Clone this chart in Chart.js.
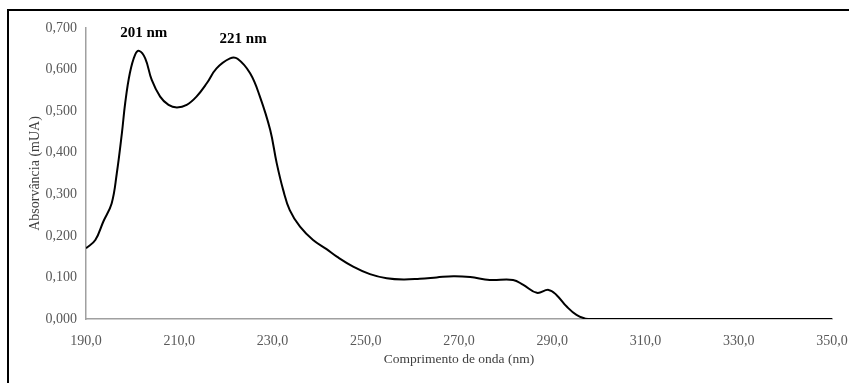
<!DOCTYPE html>
<html>
<head>
<meta charset="utf-8">
<script src="https://cdn.jsdelivr.net/npm/chart.js@4/dist/chart.umd.min.js"></script>
<style>
  html, body { margin: 0; padding: 0; background: #fff; overflow: hidden; }
  #wrap { position: relative; width: 849px; height: 383px; overflow: hidden; }
  #frame { position: absolute; left: 7px; top: 9px; width: 900px; height: 420px; border: 2px solid #000; }
  #chart-spectrum { position: absolute; left: 0; top: 0; }
</style>
</head>
<body>
<div id="wrap">
  <div id="frame"></div>
  <canvas id="chart-spectrum" width="849" height="383"></canvas>
</div>
<script>
'use strict';

// Wavelength (nm) and absorbance
var wavelengths = [190, 192, 193.7, 195.5, 196.6, 197.7, 198.4, 199.4, 200.5, 201.4, 202.7, 204.1, 205.9, 207.7, 209.5, 211.6, 213.7, 215.9, 218, 220.9, 222.5, 225.2, 227.3, 229.5, 230.9, 232.3, 233.7, 235.9, 238.7, 241.6, 243.8, 247.3, 250.9, 254.5, 258.1, 261.6, 265.2, 268.8, 272.4, 276.6, 281.6, 283.8, 286.7, 289.2, 290.9, 293.1, 295.2, 297.7, 310, 330, 350];
var absorbance = [0.170, 0.190, 0.234, 0.278, 0.350, 0.447, 0.519, 0.591, 0.635, 0.645, 0.627, 0.575, 0.535, 0.515, 0.509, 0.515, 0.535, 0.567, 0.603, 0.627, 0.626, 0.591, 0.535, 0.455, 0.375, 0.310, 0.262, 0.222, 0.190, 0.168, 0.150, 0.126, 0.108, 0.098, 0.095, 0.097, 0.100, 0.103, 0.101, 0.094, 0.094, 0.082, 0.063, 0.070, 0.058, 0.030, 0.010, 0.000, 0, 0, 0];

// Peak labels
var peakLabels = ['201 nm', '221 nm'];
var peakLabelX = [202.4, 223.7];
var peakLabelY = [0.688, 0.674];

var serif = "'Liberation Serif', 'Times New Roman', serif";

function commaFixed(v, d) {
  return Number(v).toFixed(d).replace('.', ',');
}

// draws the peak labels at data coordinates
var peakLabelPlugin = {
  id: 'peakLabels',
  afterDatasetsDraw: function(chart) {
    var ctx = chart.ctx;
    var xs = chart.scales.x, ys = chart.scales.y;
    ctx.save();
    ctx.font = 'bold 15px ' + serif;
    ctx.fillStyle = '#000';
    ctx.textAlign = 'center';
    ctx.textBaseline = 'middle';
    peakLabels.forEach(function(t, i) {
      ctx.fillText(t, xs.getPixelForValue(peakLabelX[i]), ys.getPixelForValue(peakLabelY[i]));
    });
    ctx.restore();
  }
};

new Chart(document.getElementById('chart-spectrum'), {
  type: 'line',
  data: {
    datasets: [
      {
        data: wavelengths.map(function(w, i) { return { x: w, y: absorbance[i] }; }),
        borderColor: '#000',
        borderWidth: 2,
        pointRadius: 0,
        tension: 0.4,
        fill: false
      }
    ]
  },
  options: {
    responsive: false,
    animation: false,
    layout: { padding: { left: 0, top: 28, right: 17, bottom: 0 } },
    plugins: {
      legend: { display: false },
      tooltip: { enabled: false }
    },
    scales: {
      x: {
        type: 'linear',
        min: 190,
        max: 350,
        // fixed axis band; let the layout padding decide the right edge
        afterFit: function(scale) {
          scale.height = 64;
          scale.paddingRight = 0;
        },
        grid: { display: false, drawTicks: false },
        border: { display: true, color: '#a0a0a0', width: 1.5 },
        ticks: {
          stepSize: 20,
          padding: 14,
          maxRotation: 0,
          color: '#595959',
          font: { family: serif, size: 14 },
          callback: function(v) { return commaFixed(v, 1); }
        },
        title: {
          display: true,
          text: 'Comprimento de onda (nm)',
          color: '#404040',
          padding: 15,
          font: { family: serif, size: 13.5 }
        }
      },
      y: {
        min: 0,
        max: 0.7,
        afterFit: function(scale) { scale.width = 86; },
        grid: { display: false, drawTicks: false },
        border: { display: true, color: '#a0a0a0', width: 1.5 },
        ticks: {
          stepSize: 0.1,
          padding: 9,
          color: '#595959',
          font: { family: serif, size: 14 },
          callback: function(v) { return commaFixed(v, 3); }
        },
        title: {
          display: true,
          text: 'Absorvância (mUA)',
          color: '#404040',
          padding: 27,
          font: { family: serif, size: 14 }
        }
      }
    }
  },
  plugins: [peakLabelPlugin]
});
</script>
</body>
</html>
